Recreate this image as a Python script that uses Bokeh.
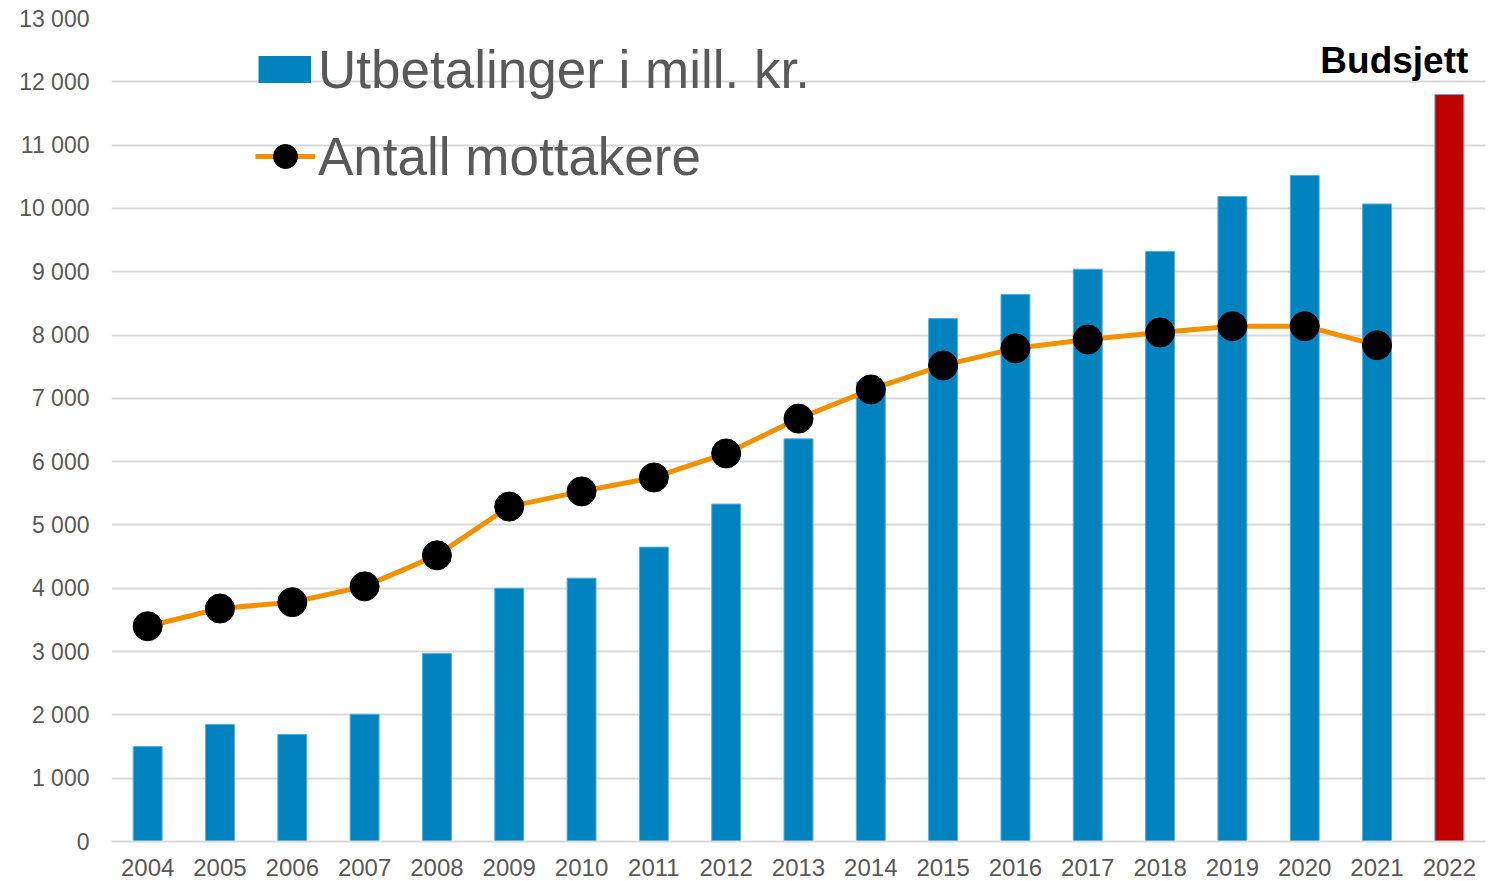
from bokeh.plotting import figure
from bokeh.models import FactorRange, Range1d, FixedTicker, Legend, LegendItem
from bokeh.core.properties import value
from bokeh.embed import file_html
from bokeh.resources import INLINE

years = [str(y) for y in range(2004, 2023)]
payments = [1500, 1850, 1690, 2010, 2970, 4000, 4160, 4650, 5330, 6360,
            7260, 8260, 8640, 9040, 9320, 10190, 10520, 10070, 11800]
recipients = [3400, 3680, 3780, 4030, 4520, 5290, 5530, 5750, 6130, 6680,
              7140, 7520, 7790, 7930, 8040, 8140, 8140, 7840]
bar_colors = ["#0083BF"] * 18 + ["#C00000"]
y_ticks = list(range(0, 13001, 1000))
y_labels = {t: f"{t:,}".replace(",", " ") for t in y_ticks}
budget_label = "Budsjett"
legend_labels = ["Utbetalinger i mill. kr.", "Antall mottakere"]

FONT = "Liberation Sans"
GRAY = "#595959"
BLUE = "#0083BF"

p = figure(x_range=FactorRange(*years, range_padding=0),
           y_range=Range1d(0, 13000),
           width=1501, height=880, output_backend="svg", toolbar_location=None,
           min_border_left=111, min_border_right=16, min_border_top=18, min_border_bottom=39)
p.outline_line_color = None
p.background_fill_color = "white"

bars = p.vbar(x=years, top=payments, width=0.4, fill_color=bar_colors,
              line_color="#55AEDC", line_width=1)
line = p.line(x=years[:len(recipients)], y=recipients, line_color="#F29100", line_width=5)
dots = p.scatter(x=years[:len(recipients)], y=recipients, size=29, marker="circle",
                 fill_color="black", line_color="black")
# legend swatch for the bars: a thick line with no drawable point gives a flat rectangle
bar_swatch = p.line(x=[years[0]], y=[float("nan")], line_color=BLUE, line_width=27,
                    line_cap="butt")

p.text(x=[years[-1]], y=[payments[-1]], text=[budget_label], text_align="right",
       text_baseline="alphabetic", x_offset=19, y_offset=-34,
       text_font=value(FONT), text_font_style="bold", text_font_size="37px",
       text_color="black")

p.xgrid.grid_line_color = None
p.ygrid.grid_line_color = "#D9D9D9"
p.ygrid.grid_line_width = 2
p.yaxis.ticker = FixedTicker(ticks=y_ticks)
p.yaxis.major_label_overrides = y_labels
for ax in (p.xaxis, p.yaxis):
    ax.major_tick_line_color = None
    ax.minor_tick_line_color = None
    ax.major_tick_out = 0
    ax.major_tick_in = 0
    ax.major_label_text_font = FONT
    ax.major_label_text_color = GRAY
p.xaxis.major_label_text_font_size = "24px"
p.yaxis.major_label_text_font_size = "23px"
p.yaxis.axis_line_color = None
p.xaxis.axis_line_color = "#D9D9D9"
p.xaxis.axis_line_width = 2
p.yaxis.major_label_standoff = 22
p.xaxis.major_label_standoff = 17

common = dict(orientation="vertical", padding=0, margin=0,
              label_text_font=FONT, label_text_font_size="53px",
              label_text_color=GRAY, background_fill_alpha=0,
              border_line_color=None)
legend1 = Legend(items=[LegendItem(label=legend_labels[0], renderers=[bar_swatch])],
                 location=(147, 741), glyph_width=53, glyph_height=62,
                 label_height=62, label_standoff=7, **common)
legend2 = Legend(items=[LegendItem(label=legend_labels[1], renderers=[line, dots])],
                 location=(144, 653), glyph_width=60, glyph_height=64,
                 label_height=64, label_standoff=3, **common)
p.add_layout(legend1)
p.add_layout(legend2)

open("out.html", "w").write(file_html(p, INLINE))
